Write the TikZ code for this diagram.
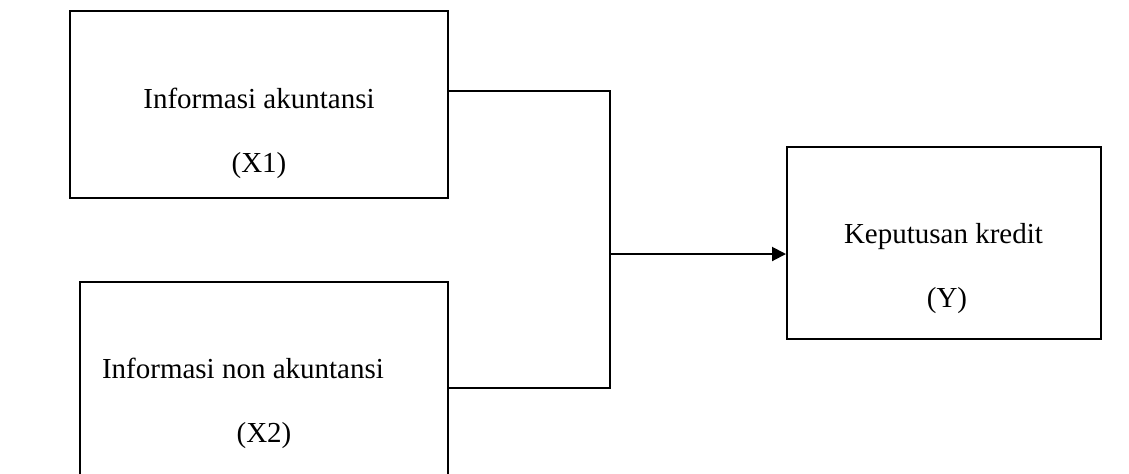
\documentclass[tikz,border=0pt]{standalone}
\usepackage{fontspec}
\setmainfont{Liberation Serif}
\usetikzlibrary{arrows.meta}
\usetikzlibrary{positioning}
\tikzset{
  box/.style={rectangle, draw, line width=1pt, inner sep=0pt},
  lbl/.style={anchor=base, inner sep=0pt, font=\fontsize{14.5pt}{17pt}\selectfont},
  line/.style={draw, line width=1pt},
  arrow/.style={draw, line width=1pt, -{Triangle[length=7pt, width=7pt]}}
  }

\begin{document}
\begin{tikzpicture}[x=0.5pt, y=-0.5pt]
	% Frame
	\clip (0,0) rectangle (1129,473);

	% Boxes
	\node[box, minimum width=189pt, minimum height=93.5pt] (akun) at (259,104.5) {};
	\node[box, minimum width=184pt, minimum height=106pt] (nonakun) at (264,388) {};
	\node[box, minimum width=157pt, minimum height=96pt] (kredit) at (944,243) {};

	% Labels
	\node[lbl] (akuntxt) at (259,108) {Informasi akuntansi};
	\node[lbl] (akunvar) at (259,172) {(X1)};
	\node[lbl] (nonakuntxt) at (243,378) {Informasi non akuntansi};
	\node[lbl] (nonakunvar) at (264,442) {(X2)};
	\node[lbl] (kredittxt) at (943.5,243) {Keputusan kredit};
	\node[lbl] (kreditvar) at (947,307) {(Y)};

	% Arrow
	\coordinate (join) at (610,254);
	\draw [line] ([yshift=6.75pt]akun.east) -| (join);
	\draw [line] (nonakun.east) -| (join);
	\draw [arrow] (join) -- (join -| kredit.west);
\end{tikzpicture}
\end{document}
